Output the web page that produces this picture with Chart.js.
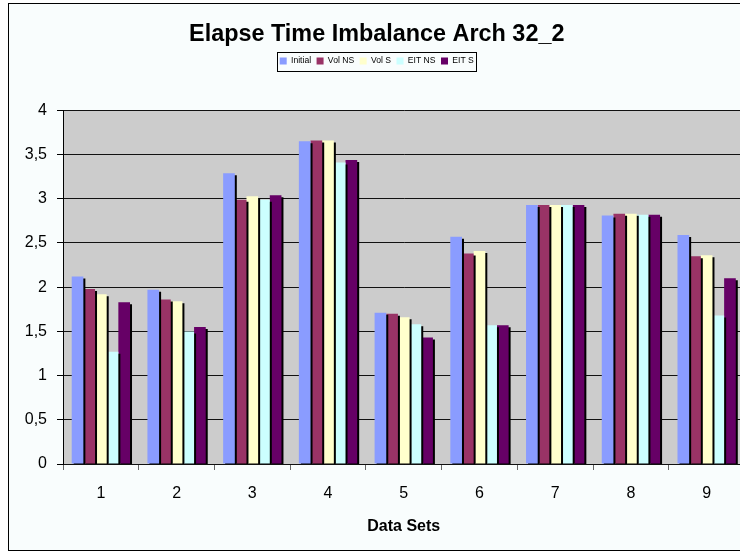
<!DOCTYPE html>
<html>
<head>
<meta charset="utf-8">
<script src="https://cdn.jsdelivr.net/npm/chart.js@4"></script>
<style>
    html, body { margin: 0; padding: 0; background: #ffffff; overflow: hidden; width: 740px; height: 552px; }
    #frame { position: absolute; left: 8px; top: 3px; width: 760px; height: 546px; border: 1px solid #000; background: #f9fdfd; }
    #myChart { display: block; }
</style>
</head>
<body>
<div id="frame"><canvas id="myChart" width="740" height="546"></canvas></div>
<script>
// values
const dataSets = ['1', '2', '3', '4', '5', '6', '7', '8', '9'];
const initial = [2.12, 1.97, 3.29, 3.65, 1.71, 2.57, 2.93, 2.81, 2.59];
const volNS = [1.98, 1.86, 2.99, 3.66, 1.70, 2.38, 2.93, 2.83, 2.35];
const volS = [1.92, 1.84, 3.03, 3.66, 1.66, 2.41, 2.93, 2.83, 2.36];
const eitNS = [1.27, 1.50, 2.99, 3.41, 1.58, 1.57, 2.93, 2.82, 1.68];
const eitS = [1.83, 1.55, 3.04, 3.44, 1.43, 1.57, 2.93, 2.82, 2.10];
const yTicks = [0, 0.5, 1, 1.5, 2, 2.5, 3, 3.5, 4];

const fontFamily = '"Liberation Sans", Arial, sans-serif';

// gray plot area behind the bars
const plotBackground = {
    id: 'plotBackground',
    beforeDraw(chart) {
        const { ctx, chartArea } = chart;
        ctx.save();
        ctx.fillStyle = '#cccccc';
        ctx.fillRect(chartArea.left, chartArea.top, chartArea.right - chartArea.left, chartArea.bottom - chartArea.top);
        ctx.restore();
    },
};

// excel style drop shadow on the bars
const barShadow = {
    id: 'barShadow',
    beforeDatasetsDraw(chart) {
        const ctx = chart.ctx;
        ctx.save();
        ctx.shadowColor = '#000000';
        ctx.shadowOffsetX = 2;
        ctx.shadowOffsetY = 2;
        ctx.shadowBlur = 0;
    },
    afterDatasetsDraw(chart) {
        chart.ctx.restore();
    },
};

// frame around the legend
const legendFrame = {
    id: 'legendFrame',
    afterDraw(chart) {
        const boxes = chart.legend.legendHitBoxes;
        if (!boxes || !boxes.length) return;
        let left = Infinity, right = -Infinity, top = Infinity, bottom = -Infinity;
        boxes.forEach((b) => {
            left = Math.min(left, b.left);
            right = Math.max(right, b.left + b.width);
            top = Math.min(top, b.top);
            bottom = Math.max(bottom, b.top + b.height);
        });
        const ctx = chart.ctx;
        ctx.save();
        ctx.strokeStyle = '#000000';
        ctx.lineWidth = 1;
        ctx.strokeRect(Math.round(left - 3) + 0.5, Math.round(top - 5) + 0.5, Math.round(right - left + 5), Math.round(bottom - top + 10));
        ctx.restore();
    },
};

const ctx = document.getElementById('myChart').getContext('2d');
const myChart = new Chart(ctx, {
    type: 'bar',
    data: {
        labels: dataSets,
        datasets: [
            { label: 'Initial', data: initial, backgroundColor: '#8a9cff' },
            { label: 'Vol NS', data: volNS, backgroundColor: '#993366' },
            { label: 'Vol S', data: volS, backgroundColor: '#ffffcc' },
            { label: 'EIT NS', data: eitNS, backgroundColor: '#ccffff' },
            { label: 'EIT S', data: eitS, backgroundColor: '#660066' },
        ],
    },
    options: {
        responsive: false,
        animation: false,
        events: [],
        datasets: {
            bar: {
                borderWidth: 0,
                barPercentage: 1,
                categoryPercentage: 0.77,
            },
        },
        layout: {
            padding: { left: 0, right: 4.5, top: 0, bottom: 13.6 },
        },
        scales: {
            x: {
                grid: {
                    offset: true,
                    drawOnChartArea: false,
                    tickLength: 6,
                    color: '#666666',
                },
                border: { color: '#000000', width: 1 },
                ticks: {
                    padding: 14,
                    color: '#000000',
                    font: { family: fontFamily, size: 16 },
                },
                title: {
                    display: true,
                    text: 'Data Sets',
                    color: '#000000',
                    padding: { top: 0, bottom: 0 },
                    font: { family: fontFamily, size: 16, weight: 'bold' },
                },
            },
            y: {
                min: 0,
                max: 4,
                afterFit(scale) {
                    scale.width = 54;
                },
                afterBuildTicks(scale) {
                    scale.ticks = yTicks.map((v) => ({ value: v }));
                },
                grid: {
                    display: true,
                    drawOnChartArea: true,
                    color: '#111111',
                    tickColor: '#000000',
                    tickLength: 6,
                    lineWidth: 1,
                    z: 0,
                },
                border: { color: '#000000', width: 1 },
                ticks: {
                    padding: 10,
                    color: '#000000',
                    font: { family: fontFamily, size: 16 },
                    callback: function (value) {
                        return String(value).replace('.', ',');
                    },
                },
            },
        },
        plugins: {
            title: {
                display: true,
                text: 'Elapse Time Imbalance Arch 32_2',
                color: '#000000',
                padding: { top: 17, bottom: 2 },
                font: { family: fontFamily, size: 23.4, weight: 'bold' },
            },
            legend: {
                display: true,
                position: 'top',
                weight: 1800,
                labels: {
                    boxWidth: 7,
                    boxHeight: 7,
                    padding: 5.5,
                    color: '#000000',
                    font: { family: fontFamily, size: 8.6 },
                },
            },
            // empty subtitle used as a gap between legend and plot
            subtitle: {
                display: true,
                text: '',
                weight: 1000,
                padding: { top: 0, bottom: 34 },
                font: { size: 1 },
            },
            tooltip: { enabled: false },
        },
    },
    plugins: [plotBackground, barShadow, legendFrame],
});
</script>
</body>
</html>
